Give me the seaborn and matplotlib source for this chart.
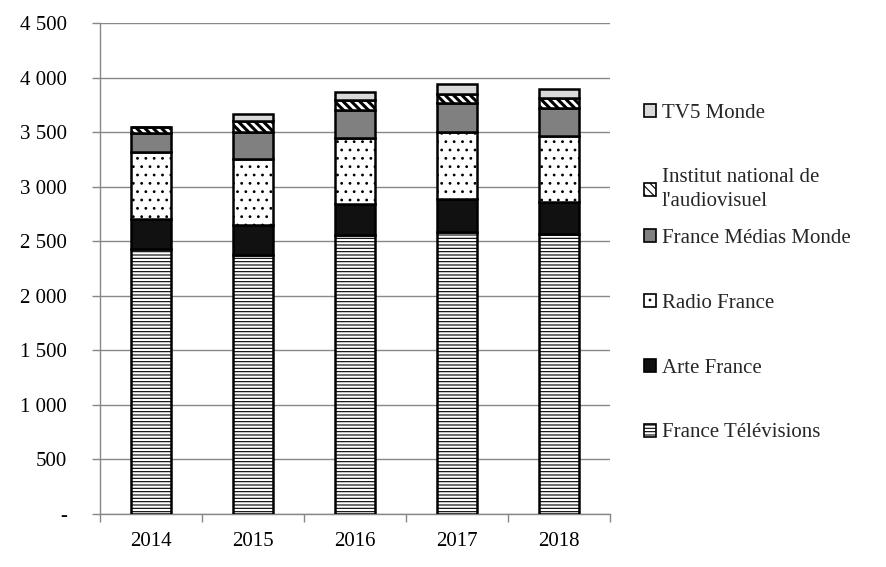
import matplotlib
matplotlib.use("Agg")
import matplotlib.pyplot as plt
import seaborn as sns
import numpy as np
import pandas as pd
from matplotlib.ticker import FuncFormatter, FixedLocator

years = ["2014", "2015", "2016", "2017", "2018"]
france_televisions = [2429, 2371, 2557, 2588, 2566]
arte_france = [272, 275, 281, 299, 294]
radio_france = [614, 608, 611, 617, 608]
france_medias_monde = [174, 247, 251, 259, 253]
ina = [61, 98, 91, 87, 89]
tv5_monde = [0, 70, 80, 88, 88]

series_names = ["France Télévisions", "Arte France", "Radio France",
                "France Médias Monde", "Institut national de\nl'audiovisuel", "TV5 Monde"]
series_values = [france_televisions, arte_france, radio_france,
                 france_medias_monde, ina, tv5_monde]
y_ticks = [0, 500, 1000, 1500, 2000, 2500, 3000, 3500, 4000, 4500]

styles = [
    dict(color="white", hatch="-----", hlw=0.8),
    dict(color="#111111", hatch=None, hlw=0.8),
    dict(color="white", hatch="..", hlw=0.8),
    dict(color="#808080", hatch=None, hlw=0.8),
    dict(color="white", hatch="\\\\\\\\", hlw=2.2),
    dict(color="#d9d9d9", hatch=None, hlw=0.8),
]

sns.set_theme(style="white")
plt.rcParams["font.family"] = ["Liberation Serif", "DejaVu Serif"]
plt.rcParams["hatch.linewidth"] = 0.8

fig = plt.figure(figsize=(8.87, 5.67), dpi=100)
ax = fig.add_axes([100/887, 1-514/567, 510/887, 491/567])

bottom = np.zeros(len(years))
handles = []
for name, vals, st in zip(series_names, series_values, styles):
    df = pd.DataFrame({"year": years, "value": vals})
    n_before = len(ax.patches)
    sns.barplot(data=df, x="year", y="value", bottom=bottom, width=0.4,
                color=st["color"], edgecolor="black", linewidth=1.8,
                errorbar=None, saturation=1, ax=ax, zorder=3)
    new = ax.patches[n_before:]
    for p in new:
        p.set_facecolor(st["color"])
        if st["hatch"]:
            p.set_hatch(st["hatch"])
            if hasattr(p, "set_hatch_linewidth"):
                p.set_hatch_linewidth(st["hlw"])
    h = matplotlib.patches.Patch(facecolor=st["color"], edgecolor="black",
                                 hatch=st["hatch"], linewidth=1.2, label=name)
    if st["hatch"] and hasattr(h, "set_hatch_linewidth"):
        h.set_hatch_linewidth(min(st["hlw"], 1.5))
    handles.append(h)
    bottom = bottom + np.array(vals)

ax.set_xlim(-0.5, 4.5)
ax.set_ylim(0, 4500)
ax.yaxis.set_major_locator(FixedLocator(y_ticks))
ax.yaxis.set_major_formatter(FuncFormatter(lambda v, p: "-" if v == 0 else f"{int(v):,}".replace(",", " ")))
ax.grid(axis="y", color="#878787", linewidth=1.0, zorder=0)
ax.set_axisbelow(True)
for s in ["top", "right"]:
    ax.spines[s].set_visible(False)
for s in ["left", "bottom"]:
    ax.spines[s].set_color("#878787")
    ax.spines[s].set_linewidth(1.0)
ax.set_xlabel("")
ax.set_ylabel("")
ax.tick_params(axis="y", left=True, length=5.8, width=1, color="#878787", labelsize=15, pad=18, labelcolor="black")
ax.tick_params(axis="x", which="major", length=0, labelsize=15, pad=13, labelcolor="black")
ax.set_xticks(np.arange(-0.5, 5.0, 1.0), minor=True)
ax.tick_params(axis="x", which="minor", bottom=True, length=5.8, width=1, color="#878787")

leg_kw = dict(loc="upper left", frameon=False, fontsize=15,
              handlelength=0.6, handleheight=0.6, handletextpad=0.25,
              borderaxespad=0, borderpad=0)
rev_h = handles[::-1]
rev_n = series_names[::-1]
leg1 = fig.legend(handles=rev_h[:2], labels=rev_n[:2], labelspacing=2.15,
                  bbox_to_anchor=(644/887, 1-104/567), **leg_kw)
for t in leg1.get_texts():
    t.set_linespacing(1.4)
leg2 = fig.legend(handles=rev_h[2:], labels=rev_n[2:], labelspacing=2.2,
                  bbox_to_anchor=(644/887, 1-229/567), **leg_kw)

fig.savefig("out.png", dpi=100)
